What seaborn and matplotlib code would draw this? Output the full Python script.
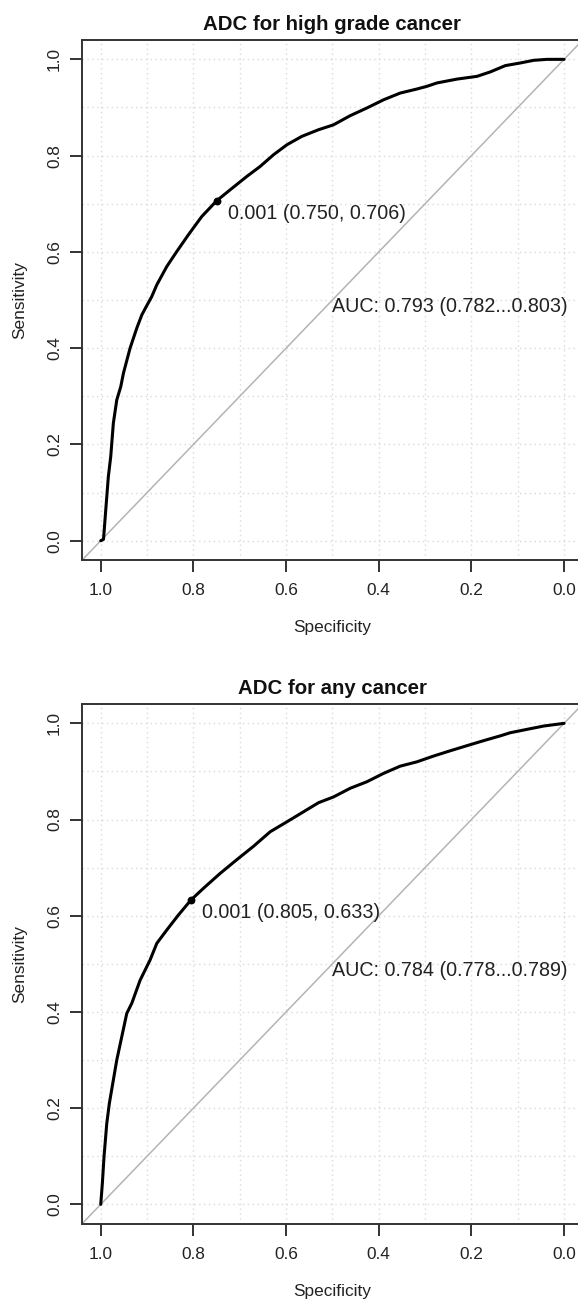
import numpy as np
import pandas as pd
import matplotlib
matplotlib.use("Agg")
import matplotlib.pyplot as plt
import seaborn as sns

# ROC curve for high grade cancer (specificity, sensitivity)
spec_high = [1.0, 0.994, 0.9886, 0.9836, 0.9784, 0.9728, 0.9654, 0.9568, 0.951, 0.9367,
             0.9222, 0.9114, 0.902, 0.890, 0.879, 0.8575, 0.8359, 0.8108, 0.7819, 0.750,
             0.7207, 0.6847, 0.656, 0.627, 0.598, 0.566, 0.530, 0.4976, 0.4616, 0.4255,
             0.3896, 0.3536, 0.3175, 0.2959, 0.2743, 0.2311, 0.1879, 0.159, 0.1268, 0.0944,
             0.0657, 0.0367, 0.0]
sens_high = [0.0, 0.003, 0.071, 0.133, 0.175, 0.244, 0.2925, 0.320, 0.348, 0.400,
             0.4416, 0.469, 0.486, 0.507, 0.5316, 0.5696, 0.6008, 0.6356, 0.6736, 0.706,
             0.729, 0.7568, 0.7775, 0.8019, 0.8227, 0.840, 0.8538, 0.864, 0.883, 0.899,
             0.916, 0.930, 0.9384, 0.944, 0.951, 0.959, 0.9647, 0.974, 0.987, 0.9925,
             0.998, 1.0, 1.0]

# ROC curve for any cancer
spec_any = [1.0, 0.9965, 0.9929, 0.987, 0.9814, 0.974, 0.9654, 0.9546, 0.9438, 0.933,
            0.915, 0.8935, 0.879, 0.8575, 0.8324, 0.805, 0.7784, 0.7423, 0.7063, 0.6704,
            0.6343, 0.598, 0.566, 0.530, 0.4976, 0.4616, 0.4255, 0.3896, 0.3536, 0.3175,
            0.2816, 0.2456, 0.2095, 0.1736, 0.1376, 0.116, 0.080, 0.044, 0.0]
sens_any = [0.0, 0.0437, 0.099, 0.168, 0.21, 0.2516, 0.300, 0.3485, 0.397, 0.418,
            0.466, 0.508, 0.5426, 0.5703, 0.6015, 0.633, 0.657, 0.688, 0.7166, 0.7443,
            0.7746, 0.7954, 0.814, 0.835, 0.847, 0.865, 0.8786, 0.896, 0.911, 0.920,
            0.932, 0.943, 0.9536, 0.964, 0.974, 0.9805, 0.9875, 0.9944, 1.0]

titles = ["ADC for high grade cancer", "ADC for any cancer"]
thresholds = [0.001, 0.001]
best_points = [(0.750, 0.706), (0.805, 0.633)]
auc_values = [(0.793, 0.782, 0.803), (0.784, 0.778, 0.789)]
major_ticks = [0.0, 0.2, 0.4, 0.6, 0.8, 1.0]
grid_steps = [0.0, 0.1, 0.2, 0.3, 0.4, 0.5, 0.6, 0.7, 0.8, 0.9, 1.0]

sns.set_style("white")
plt.rcParams["font.family"] = ["Liberation Sans", "DejaVu Sans"]
plt.rcParams["text.color"] = "#222222"
plt.rcParams["axes.labelcolor"] = "#222222"
plt.rcParams["xtick.color"] = "#222222"
plt.rcParams["ytick.color"] = "#222222"

W, H = 578, 1302
fig = plt.figure(figsize=(W / 100, H / 100), dpi=100)

# panel boxes in pixels: (left, top, right, bottom)
boxes = [(82.2, 40.1, 582.6, 560.0), (82.2, 704.1, 582.6, 1223.6)]
curves = [(spec_high, sens_high), (spec_any, sens_any)]

for i in range(2):
    l, t, r, b = boxes[i]
    ax = fig.add_axes([l / W, 1 - b / H, (r - l) / W, (b - t) / H])
    spec, sens = curves[i]
    df = pd.DataFrame({"Specificity": spec, "Sensitivity": sens})

    # dotted grid every 0.1
    for g in grid_steps:
        ax.axhline(g, color="#DADADA", lw=1.0, dashes=(1, 2.5), zorder=0)
        ax.axvline(g, color="#DADADA", lw=1.0, dashes=(1, 2.5), zorder=0)

    # chance diagonal
    ax.axline((1.0, 0.0), (0.0, 1.0), color="#B4B4B4", lw=1.1, zorder=1)

    sns.lineplot(data=df, x="Specificity", y="Sensitivity", sort=False, estimator=None,
                 color="black", lw=2.2, ax=ax, zorder=3)

    sx, sy = best_points[i]
    pt = pd.DataFrame({"Specificity": [sx], "Sensitivity": [sy]})
    sns.scatterplot(data=pt, x="Specificity", y="Sensitivity", color="black", s=32,
                    edgecolor="black", linewidth=0, ax=ax, zorder=4)
    ax.annotate(f"{thresholds[i]:.3f} ({sx:.3f}, {sy:.3f})", xy=(sx, sy),
                xytext=(8, -9), textcoords="offset points", ha="left", va="center",
                fontsize=14.2)

    a, lo, hi = auc_values[i]
    ax.annotate(f"AUC: {a:.3f} ({lo:.3f}...{hi:.3f})", xy=(0.5, 0.5),
                xytext=(0, -5), textcoords="offset points", ha="left", va="center",
                fontsize=14.2)

    ax.set_xlim(1.04, -0.04)
    ax.set_ylim(-0.04, 1.04)
    ax.set_xticks(major_ticks)
    ax.set_yticks(major_ticks)
    ax.set_xticklabels([f"{v:.1f}" for v in major_ticks])
    ax.set_yticklabels([f"{v:.1f}" for v in major_ticks], rotation=90, va="center")
    ax.tick_params(axis="both", which="major", direction="out", length=8.6, width=1.3,
                   labelsize=12.4, bottom=True, left=True)
    ax.tick_params(axis="x", pad=8)
    ax.tick_params(axis="y", pad=6)
    for side in ["left", "bottom", "top", "right"]:
        ax.spines[side].set_color("#333333")
        ax.spines[side].set_linewidth(1.4)

    ax.set_title(titles[i], fontsize=14.7, fontweight="bold", pad=7, color="#111111")
    ax.set_xlabel("Specificity", fontsize=12.4)
    ax.set_ylabel("Sensitivity", fontsize=12.4)
    ax.xaxis.set_label_coords(0.5, -0.116)
    ax.yaxis.set_label_coords(-0.109, 0.5)

fig.savefig("out.png", dpi=100)
